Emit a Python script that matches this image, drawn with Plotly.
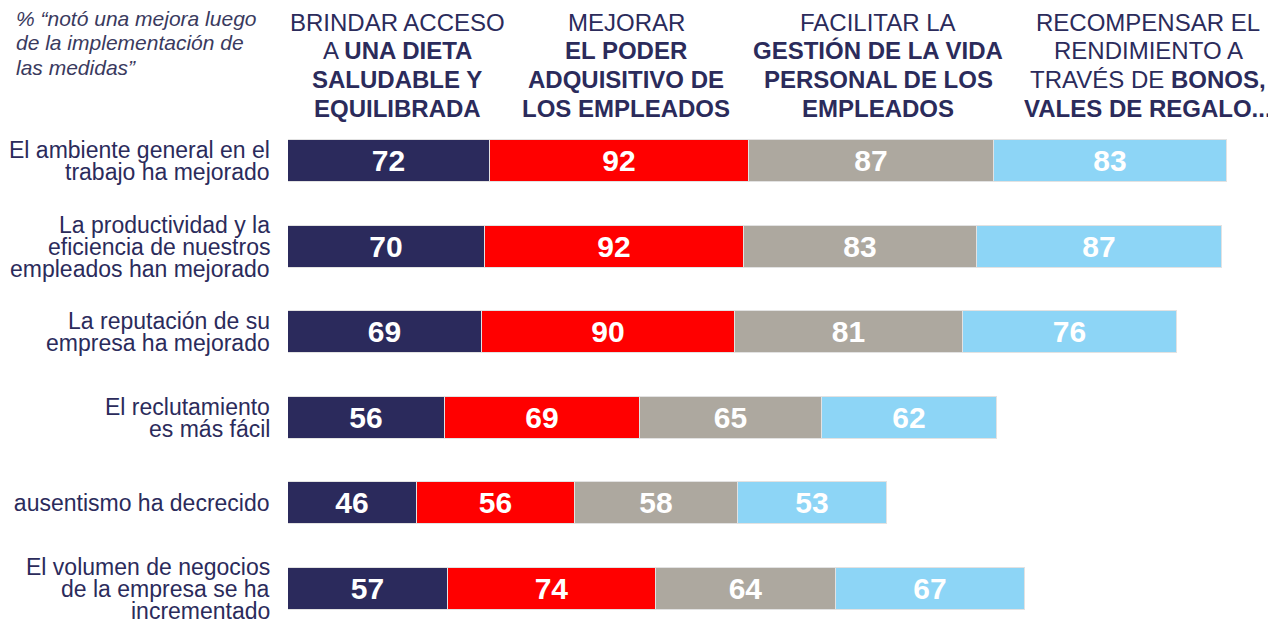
import plotly.graph_objects as go

# categories (rows, top to bottom) - lines split as in the original
row_labels = [
    ["El ambiente general en el", "trabajo ha mejorado"],
    ["La productividad y la", "eficiencia de nuestros", "empleados han mejorado"],
    ["La reputación de su", "empresa ha mejorado"],
    ["El reclutamiento", "es más fácil"],
    ["El ausentismo ha decrecido"],
    ["El volumen de negocios", "de la empresa se ha", "incrementado"],
]

# series (measures)
series_names = [
    ["BRINDAR ACCESO", "A <b>UNA DIETA</b>", "<b>SALUDABLE Y</b>", "<b>EQUILIBRADA</b>"],
    ["MEJORAR", "<b>EL PODER</b>", "<b>ADQUISITIVO DE</b>", "<b>LOS EMPLEADOS</b>"],
    ["FACILITAR LA", "<b>GESTIÓN DE LA VIDA</b>", "<b>PERSONAL DE LOS</b>", "<b>EMPLEADOS</b>"],
    ["RECOMPENSAR EL", "RENDIMIENTO A", "TRAVÉS DE <b>BONOS,</b>", "<b>VALES DE REGALO...</b>"],
]
dieta = [72, 70, 69, 56, 46, 57]
poder = [92, 92, 90, 69, 56, 74]
vida = [87, 83, 81, 65, 58, 64]
bonos = [83, 87, 76, 62, 53, 67]

note = ["% “notó una mejora luego", "de la implementación de", "las medidas”"]

colors = ["#2B2A5C", "#FF0000", "#ADA89F", "#8DD5F6"]
text_color = "#2B2B5B"
font_family = "Liberation Sans, Arial, sans-serif"

# page body has an 8px margin, so the figure is offset by 8px
OFF = 8
W, H = 1276 - OFF, 620 - OFF
left = 288 - OFF
plot_w = W - left
px_per_unit = 2.812
row_px = 85.6
y0_px = 161 - OFF

rows = list(range(len(row_labels)))

fig = go.Figure()
for vals, col in zip([dieta, poder, vida, bonos], colors):
    fig.add_trace(go.Bar(
        x=vals, y=rows, orientation="h",
        marker=dict(color=col, line=dict(color="#E2E2E2", width=1)),
        width=0.49,
        text=vals, texttemplate="<b>%{x}</b>",
        textposition="inside", insidetextanchor="middle",
        textfont=dict(color="white", size=30, family=font_family),
        constraintext="none",
        hoverinfo="skip", showlegend=False,
    ))

annotations = []
# row labels
line_h = 22
for i, lines in enumerate(row_labels):
    n = len(lines)
    for k, ln in enumerate(lines):
        annotations.append(dict(
            x=0, xref="paper", y=i, yref="y", xshift=-16,
            yshift=((n - 1) / 2 - k) * line_h,
            text=ln, showarrow=False, xanchor="right", yanchor="middle",
            font=dict(size=23, color=text_color, family=font_family),
        ))

# column headers (screen x centres)
header_x = [397, 626, 878, 1148]
for cx, lines in zip(header_x, series_names):
    for k, ln in enumerate(lines):
        annotations.append(dict(
            x=(cx - OFF - left) / plot_w, xref="paper", y=1, yref="paper",
            yshift=-(22 - OFF + 28.8 * k),
            text=ln, showarrow=False, xanchor="center", yanchor="middle",
            font=dict(size=24, color=text_color, family=font_family),
        ))

# note top-left
for k, ln in enumerate(note):
    annotations.append(dict(
        x=(14 - OFF - left) / plot_w, xref="paper", y=1, yref="paper",
        yshift=-(18 - OFF + 24.5 * k),
        text="<i>" + ln + "</i>", showarrow=False, xanchor="left", yanchor="middle",
        font=dict(size=21, color="#3A3A5E", family=font_family),
    ))

fig.update_layout(
    barmode="stack",
    width=W, height=H, autosize=False,
    margin=dict(l=left, r=0, t=0, b=0),
    paper_bgcolor="white", plot_bgcolor="white",
    xaxis=dict(range=[0, plot_w / px_per_unit], visible=False, fixedrange=True),
    yaxis=dict(range=[(H - y0_px) / row_px, -y0_px / row_px], visible=False, fixedrange=True),
    annotations=annotations,
    bargap=0,
)

fig.write_html("out.html")
